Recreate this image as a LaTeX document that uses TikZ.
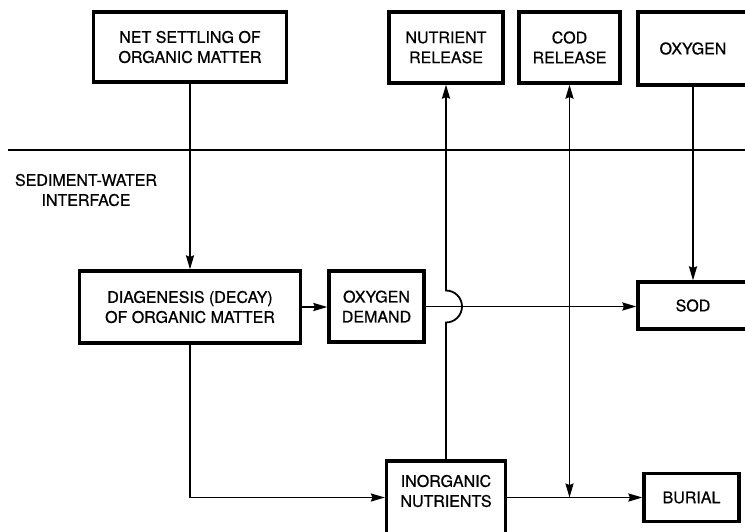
\documentclass[tikz,border=0pt]{standalone}
\usepackage{fontspec}
\newfontfamily\diagfont{TeX Gyre Heros}[FakeBold=0.7]
\usetikzlibrary{arrows.meta,calc}

\begin{document}
\begin{tikzpicture}[x=1pt,y=1pt,
  box/.style={rectangle,draw,line width=3.2pt,align=center,inner sep=0pt,font=\diagfont\fontsize{16}{20}\selectfont},
  conn/.style={line width=1.8pt},
  tip/.style={-{Stealth[length=14pt,width=8pt,inset=1.5pt]}},
  dtip/.style={{Stealth[length=14pt,width=8pt,inset=1.5pt]}-{Stealth[length=14pt,width=8pt,inset=1.5pt]}}]
  \path[use as bounding box,clip] (0,0) rectangle (745,-531);

  % water column
  \node[box,minimum width=193,minimum height=70] (settle) at (190,-47) {NET SETTLING OF\\ORGANIC MATTER};
  \node[box,minimum width=114,minimum height=71] (nutrel) at (446,-47.5) {NUTRIENT\\RELEASE};
  \node[box,minimum width=101,minimum height=71] (codrel) at (569.5,-47.5) {COD\\RELEASE};
  \node[box,minimum width=110,minimum height=73] (oxygen) at (693,-48.5) {OXYGEN};

  % interface
  \draw[conn] (8,-150) -- (750,-150);
  \node[align=center,font=\diagfont\fontsize{16}{20}\selectfont] (iface) at (86,-190) {SEDIMENT-WATER\\INTERFACE};

  % sediment
  \node[box,minimum width=221,minimum height=72] (diag) at (190,-307) {DIAGENESIS (DECAY)\\OF ORGANIC MATTER};
  \node[box,minimum width=95,minimum height=71] (oxdem) at (376.5,-306.5) {OXYGEN\\DEMAND};
  \node[box,minimum width=110,minimum height=47] (sod) at (693,-305.5) {SOD};
  \node[box,minimum width=119,minimum height=79,
    label={[font=\diagfont\fontsize{16}{20}\selectfont,align=center,yshift=9.5]center:INORGANIC\\NUTRIENTS}] (inorg) at (446,-500.5) {};
  \node[box,minimum width=95,minimum height=48] (burial) at (691.5,-497.5) {BURIAL};

  \draw[conn,tip] (settle.south) -- (settle.south |- diag.north);
  \draw[conn,tip] (diag.east) -- (diag.east -| oxdem.west);
  \draw[conn,tip] (oxdem.east) -- (oxdem.east -| sod.west);
  \draw[conn,tip] (oxygen.south) -- (sod.north);
  \draw[conn,tip] (diag.south) |- (inorg.west |- burial.west);
  \draw[conn,tip] (inorg.east |- burial.west) -- (burial.west);
  \draw[conn,tip] (inorg.north) -- ($(nutrel.south |- oxdem.east)+(0,-16)$)
    arc[start angle=-90,end angle=90,radius=16] -- (nutrel.south); % hop over oxygen demand
  \draw[conn,dtip] (codrel.south |- burial.west) -- (codrel.south);
\end{tikzpicture}
\end{document}
